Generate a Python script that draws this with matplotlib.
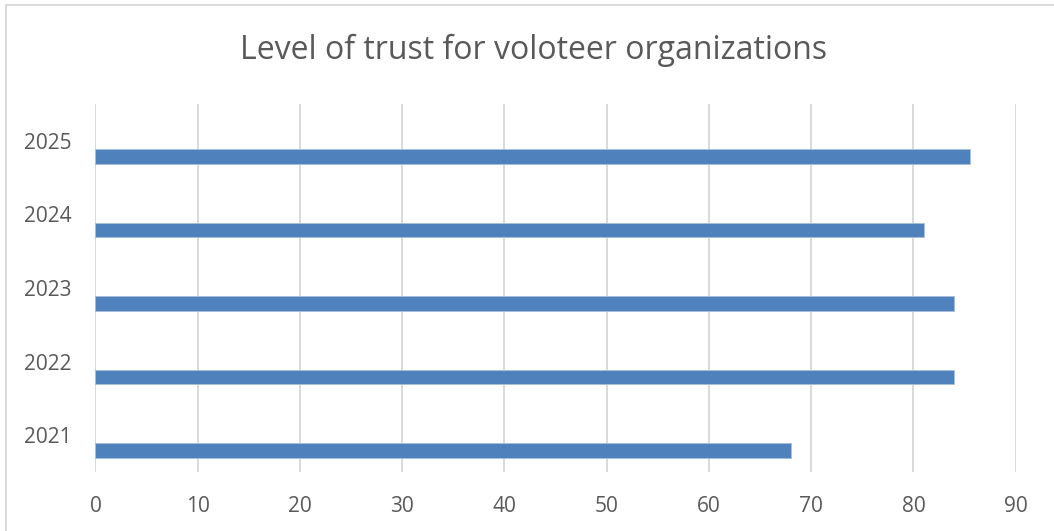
import numpy as np
import matplotlib
matplotlib.use("Agg")
from matplotlib import pyplot as plt
from matplotlib.patches import Rectangle

years = ["2021", "2022", "2023", "2024", "2025"]
trust = [68, 84, 84, 81, 85.5]
xticks = [0, 10, 20, 30, 40, 50, 60, 70, 80, 90]

plt.rcParams['font.family'] = ['Open Sans', 'DejaVu Sans']
text_col = "#595959"
grid_col = "#D9D9D9"
bar_col = "#4F81BD"

fig = plt.figure(figsize=(10.54, 5.31), dpi=100)
ax = fig.add_axes([0.0906, 0.1111, 0.8731, 0.6930])

# chart border (only top/left visible in reference)
fig.patches.append(Rectangle((6 / 1054, -0.05), 1.2, 1 - 5 / 531 + 0.05,
                             transform=fig.transFigure, fill=False,
                             edgecolor=grid_col, linewidth=1.4))

y = np.arange(len(years))
ax.barh(y - 0.21, trust, height=0.2, color=bar_col,
        edgecolor="#A7C0DE", linewidth=0.6, zorder=3)

ax.set_xlim(0, 90)
ax.set_ylim(-0.5, len(years) - 0.5)
ax.set_xticks(xticks)
ax.set_xticklabels([str(t) for t in xticks])
ax.set_yticks(y)
ax.set_yticklabels(years)
ax.grid(axis="x", color=grid_col, linewidth=1.4, zorder=0)
ax.grid(axis="y", visible=False)
for s in ax.spines.values():
    s.set_visible(False)
ax.tick_params(axis="both", length=0, labelsize=15, labelcolor=text_col)
ax.tick_params(axis="x", pad=17)
ax.tick_params(axis="y", pad=17)

fig.text(0.5063, 1 - 50 / 531, "Level of trust for voloteer organizations",
         ha="center", va="center", fontsize=23, color=text_col)

fig.savefig("out.png", dpi=100)
